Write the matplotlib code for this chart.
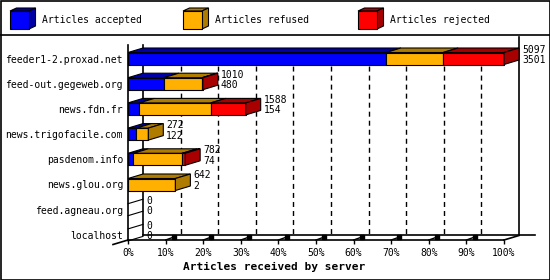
import matplotlib
matplotlib.use("Agg")
import matplotlib.pyplot as plt
from matplotlib.patches import Polygon, Rectangle

# ---- data ----
servers = ["feeder1-2.proxad.net", "feed-out.gegeweb.org", "news.fdn.fr",
           "news.trigofacile.com", "pasdenom.info", "news.glou.org",
           "feed.agneau.org", "localhost"]
accepted = [68.6, 9.5, 3.0, 2.2, 1.4, 0.0, 0.0, 0.0]
refused = [15.2, 10.2, 19.0, 3.2, 13.0, 12.6, 0.0, 0.0]
rejected = [16.2, 0.2, 9.3, 0.0, 0.8, 0.0, 0.0, 0.0]
label_top = ["5097", "1010", "1588", "272", "782", "642", "0", "0"]
label_bottom = ["3501", "480", "154", "122", "74", "2", "0", "0"]
series_names = ["Articles accepted", "Articles refused", "Articles rejected"]
xticks = [0, 10, 20, 30, 40, 50, 60, 70, 80, 90, 100]
xlabel = "Articles received by server"

front_cols = ["#0000FF", "#FFB000", "#FF0000"]
dark_cols = ["#0000A8", "#B07C00", "#A80000"]

plt.rcParams['font.family'] = ['DejaVu Sans Mono']
W, H = 550, 280
fig = plt.figure(figsize=(5.5, 2.8), dpi=100)

# overlay (pixel space) for frame and legend
bg = fig.add_axes([0, 0, 1, 1])
bg.set_xlim(0, W); bg.set_ylim(H, 0); bg.axis("off")
bg.add_patch(Rectangle((0.5, 0.5), W - 1, H - 1, fill=False, ec="black", lw=1.2))
bg.plot([0, W], [35, 35], color="black", lw=1.2)
leg_x = [10, 183, 358]
for i, name in enumerate(series_names):
    x0 = leg_x[i]; y0 = 11; w = 19; h = 18; dx = 6.5; dy = 3
    bg.add_patch(Polygon([(x0, y0), (x0 + dx, y0 - dy), (x0 + w + dx, y0 - dy), (x0 + w, y0)],
                         closed=True, fc=dark_cols[i], ec="black", lw=0.8))
    bg.add_patch(Polygon([(x0 + w, y0), (x0 + w + dx, y0 - dy), (x0 + w + dx, y0 + h - dy), (x0 + w, y0 + h)],
                         closed=True, fc=dark_cols[i], ec="black", lw=0.8))
    bg.add_patch(Rectangle((x0, y0), w, h, fc=front_cols[i], ec="black", lw=0.8))
    bg.text(x0 + 32, 20, name, fontsize=7, va="center", ha="left")

# main axes: front plane 0..100% from x=128px to 504px; floor at y=240px
px_x = 3.76
px_row = 25.2
row0 = 58.5
def prow(p):
    return (p - row0) / px_row

ax = fig.add_axes([128 / W, (H - 240) / H, 376 / W, (240 - 45) / H])
ax.set_facecolor("none")
ax.set_xlim(0, 100)
ax.set_ylim(prow(240), prow(45))
DX = 15 / px_x
DY = 4.5 / px_row
hh = 6 / px_row

for s in ["top", "right"]:
    ax.spines[s].set_visible(False)
ax.spines["left"].set_linewidth(1.2)
ax.spines["bottom"].set_linewidth(1.2)

# back walls / grid
ax.plot([DX, DX], [prow(45), prow(235)], color="black", lw=1.2, clip_on=False, zorder=1)
ax.plot([100 + DX, 100 + DX], [prow(37), prow(235)], color="black", lw=1.2, clip_on=False, zorder=1)
for k in range(1, 10):
    ax.plot([k * 10 + DX] * 2, [prow(48), prow(235)], color="black", lw=1,
            linestyle=(0, (3.6, 2.9)), clip_on=False, zorder=1)
ax.plot([DX, (535 - 128) / px_x], [prow(235)] * 2, color="black", lw=1.2, clip_on=False, zorder=1)
ax.plot([-DX, 0], [prow(240) + DY, prow(240)], color="black", lw=1.2, clip_on=False, zorder=1)
ax.plot([100, 100 + DX], [prow(240), prow(240) - DY], color="black", lw=1.2, clip_on=False, zorder=1)
for k in range(1, 10):
    x = k * 10
    ax.plot([x, x + 2.0], [prow(240), prow(237.3)], color="black", lw=1, clip_on=False, zorder=1)
    ax.plot([x + 2.2], [prow(236.8)], marker="s", ms=2.2, color="black", clip_on=False, zorder=1)

# bars
for i in range(len(servers)):
    r = i
    top = r - hh; bot = r + hh
    segs = [accepted[i], refused[i], rejected[i]]
    start = 0.0
    last = None
    for j, v in enumerate(segs):
        if v <= 0:
            continue
        x0, x1 = start, start + v
        ax.add_patch(Polygon([(x0, top), (x0 + DX, top - DY), (x1 + DX, top - DY), (x1, top)],
                             closed=True, fc=dark_cols[j], ec="black", lw=0.8, clip_on=False, zorder=3))
        ax.add_patch(Rectangle((x0, top), v, 2 * hh, fc=front_cols[j], ec="black", lw=0.8,
                               clip_on=False, zorder=3))
        start = x1
        last = j
    end = start
    if last is not None:
        ax.add_patch(Polygon([(end, top), (end + DX, top - DY), (end + DX, bot - DY), (end, bot)],
                             closed=True, fc=dark_cols[last], ec="black", lw=0.8, clip_on=False, zorder=3))
    else:
        ax.plot([0, DX], [top, top - DY], color="black", lw=0.8, clip_on=False, zorder=3)
        ax.plot([0, DX], [bot, bot - DY], color="black", lw=0.8, clip_on=False, zorder=3)
    ax.text(end + DX + 0.8, r - 9 / px_row, label_top[i], fontsize=7, va="center", ha="left", zorder=4)
    ax.text(end + DX + 0.8, r + 1.5 / px_row, label_bottom[i], fontsize=7, va="center", ha="left", zorder=4)

ax.set_yticks(range(len(servers)))
ax.set_yticklabels(servers, fontsize=7)
ax.tick_params(axis="y", length=0, pad=3.6)
ax.set_xticks(xticks)
ax.set_xticklabels([f"{t}%" for t in xticks], fontsize=7)
ax.tick_params(axis="x", length=3, width=1, pad=2.5, direction="out")
ax.set_xlabel(xlabel, fontsize=8, fontweight="bold", va="center")
ax.xaxis.set_label_coords((274 - 128) / 376, (240 - 267) / (240 - 45))

fig.savefig("out.png", dpi=100)
